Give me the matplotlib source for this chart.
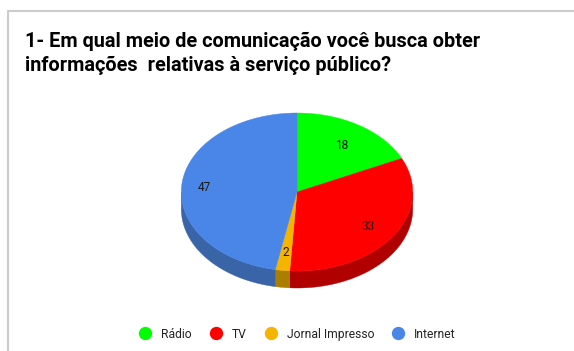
import numpy as np
import matplotlib
matplotlib.use("Agg")
import matplotlib.pyplot as plt
from matplotlib.patches import Polygon

categories = ["Rádio", "TV", "Jornal Impresso", "Internet"]
values = [18, 33, 2, 47]
colors = ["#00ff00", "#ff0000", "#f4b400", "#4a86e8"]
side_colors = ["#00b300", "#b00000", "#ab7e00", "#3a64a8"]
label_radius = [0.72, 0.74, 0.75, 0.80]
title_lines = ["1- Em qual meio de comunicação você busca obter",
               "informações  relativas à serviço público?"]

W, H = 574, 351
CX, CY, RX, RY, DEPTH = 297, 192, 115.7, 79, 17

fig = plt.figure(figsize=(W / 100, H / 100), dpi=100)
ax = fig.add_axes([0, 0, 1, 1])
ax.set_xlim(0, W)
ax.set_ylim(H, 0)
ax.axis("off")

# Card outline along the top and left edges
ax.plot([575, 8, 8], [10.5, 10.5, 352], color="#cccccc", lw=1.5, solid_joinstyle="miter", zorder=1)

for y, line in zip([39.5, 63], title_lines):
    ax.text(25, y, line, fontsize=14.35, fontweight="bold", family="Roboto",
            color="#000000", va="center_baseline", ha="left")


def rim(t):
    # t is the clockwise angle from twelve o'clock, in radians
    return CX + RX * np.sin(t), CY - RY * np.cos(t)


fractions = np.array(values, dtype=float) / sum(values)
edges = np.concatenate([[0], np.cumsum(fractions)]) * 2 * np.pi

# Extruded side wall: only the front half of the rim faces the viewer
for a, b, c in zip(edges[:-1], edges[1:], side_colors):
    lo, hi = max(a, np.pi / 2), min(b, 3 * np.pi / 2)
    if lo >= hi:
        continue
    t = np.linspace(lo, hi, 120)
    x, y = rim(t)
    pts = np.r_[np.c_[x, y], np.c_[x[::-1], y[::-1] + DEPTH]]
    ax.add_patch(Polygon(pts, closed=True, fc=c, ec=c, lw=0.3, zorder=2))

# Top face
for a, b, c in zip(edges[:-1], edges[1:], colors):
    t = np.linspace(a, b, 200)
    x, y = rim(t)
    pts = np.r_[[[CX, CY]], np.c_[x, y]]
    ax.add_patch(Polygon(pts, closed=True, fc=c, ec=c, lw=0.3, zorder=3))

# Value labels placed along each slice's middle angle
for a, b, v, r in zip(edges[:-1], edges[1:], values, label_radius):
    m = (a + b) / 2
    ax.text(CX + r * RX * np.sin(m), CY - r * RY * np.cos(m), str(v),
            fontsize=8.6, family="Roboto", color="#1a1a1a", ha="center",
            va="center_baseline", zorder=4)

# Legend row
marker_x = [145, 216, 271, 398]
label_x = [161.5, 232, 287, 414]
for mx, lx, name, c in zip(marker_x, label_x, categories, colors):
    ax.scatter([mx], [333], s=92, color=c, linewidths=0, zorder=4)
    ax.text(lx, 333, name, fontsize=8.7, family="Roboto", color="#222222",
            ha="left", va="center_baseline", zorder=4)

fig.savefig("out.png", dpi=100, facecolor="white")
